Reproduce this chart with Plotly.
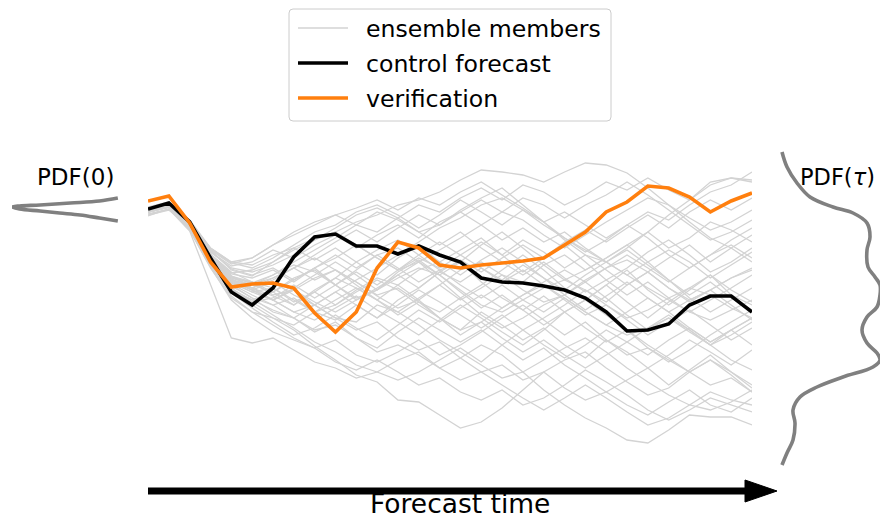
import plotly.graph_objects as go

# forecast lead time index (30 steps)
lead_time = list(range(30))

# chart values (vertical position units, larger = lower on the chart)
control_forecast = [209, 203, 222, 258, 292, 305, 288, 257, 237, 234, 246, 246, 254, 246, 255,
                    262, 278, 282, 283, 286, 290, 298, 312, 331, 330, 324, 305, 296, 296, 312]
verification = [201, 196, 223, 262, 287, 284, 283, 288, 313, 332, 312, 268, 242, 248, 265,
                268, 265, 263, 261, 258, 245, 232, 212, 202, 186, 188, 197, 212, 201, 193]

member_01 = [208, 203, 222, 250, 270, 276, 262, 248, 238, 232, 222, 215, 205, 200, 192, 180, 170, 172, 175, 182, 172, 163, 165, 173, 188, 205, 222, 238, 248, 262]
member_02 = [210, 204, 224, 252, 268, 272, 265, 255, 240, 228, 215, 208, 218, 232, 225, 210, 198, 188, 205, 222, 240, 255, 262, 248, 232, 215, 200, 182, 178, 180]
member_03 = [212, 207, 230, 268, 298, 312, 318, 330, 346, 360, 375, 382, 400, 402, 415, 428, 422, 408, 390, 372, 360, 352, 368, 382, 395, 388, 372, 360, 372, 385]
member_04 = [209, 204, 226, 260, 285, 298, 305, 318, 330, 325, 338, 352, 345, 355, 368, 358, 345, 355, 372, 390, 405, 418, 428, 440, 443, 430, 415, 417, 417, 425]
member_05 = [211, 206, 228, 262, 290, 300, 292, 305, 290, 278, 288, 300, 285, 300, 318, 330, 312, 325, 340, 328, 345, 358, 340, 352, 368, 355, 340, 352, 365, 350]
member_06 = [207, 202, 220, 248, 262, 265, 255, 248, 260, 248, 262, 275, 258, 245, 262, 250, 238, 255, 272, 258, 245, 262, 280, 268, 252, 240, 255, 272, 262, 248]
member_07 = [210, 205, 224, 258, 278, 285, 292, 278, 270, 285, 270, 255, 248, 262, 275, 262, 282, 298, 310, 296, 312, 300, 285, 302, 318, 302, 288, 275, 290, 302]
member_08 = [212, 207, 229, 264, 292, 305, 318, 325, 312, 320, 305, 318, 300, 288, 272, 282, 268, 280, 265, 278, 295, 282, 298, 315, 330, 318, 332, 345, 330, 318]
member_09 = [209, 203, 223, 254, 272, 282, 295, 290, 305, 318, 322, 305, 312, 298, 285, 300, 288, 275, 282, 265, 255, 270, 258, 245, 232, 248, 238, 222, 230, 242]
member_10 = [208, 203, 225, 258, 282, 292, 288, 302, 292, 305, 290, 278, 285, 270, 262, 275, 260, 248, 262, 278, 290, 275, 262, 250, 265, 280, 295, 282, 298, 310]
member_11 = [211, 206, 227, 260, 286, 298, 312, 318, 332, 322, 338, 348, 332, 318, 330, 342, 330, 345, 360, 348, 365, 378, 392, 380, 368, 385, 370, 355, 372, 388]
member_12 = [210, 205, 223, 252, 266, 262, 250, 258, 245, 235, 248, 235, 225, 238, 222, 212, 225, 240, 228, 242, 232, 248, 262, 275, 262, 250, 262, 278, 265, 252]
member_13 = [209, 204, 226, 259, 279, 288, 278, 268, 280, 270, 282, 295, 288, 302, 312, 298, 315, 328, 318, 305, 295, 310, 296, 282, 298, 312, 300, 290, 278, 268]
member_14 = [212, 207, 229, 266, 296, 312, 325, 338, 348, 340, 355, 362, 352, 340, 355, 345, 332, 318, 305, 320, 335, 322, 340, 355, 348, 360, 372, 385, 378, 392]
member_15 = [210, 205, 227, 262, 288, 302, 315, 328, 342, 352, 365, 372, 380, 372, 360, 348, 362, 345, 330, 318, 305, 290, 302, 285, 272, 258, 245, 262, 248, 235]
member_16 = [208, 203, 224, 256, 276, 282, 292, 280, 268, 285, 300, 290, 275, 262, 280, 298, 285, 270, 255, 270, 288, 300, 285, 270, 290, 305, 290, 275, 295, 305]
member_17 = [211, 206, 228, 261, 283, 292, 300, 288, 275, 262, 275, 290, 272, 260, 275, 292, 308, 295, 310, 325, 312, 328, 342, 330, 345, 358, 372, 360, 375, 392]
member_18 = [210, 204, 225, 257, 280, 288, 280, 268, 255, 242, 230, 242, 228, 215, 225, 212, 200, 212, 198, 205, 218, 205, 195, 182, 195, 210, 225, 240, 232, 220]
member_19 = [209, 204, 224, 255, 274, 278, 270, 282, 268, 258, 245, 258, 270, 255, 242, 255, 268, 282, 270, 285, 300, 315, 305, 320, 335, 322, 310, 325, 340, 328]
member_20 = [212, 207, 230, 267, 300, 318, 332, 340, 348, 362, 370, 360, 372, 385, 378, 392, 400, 390, 405, 398, 385, 370, 382, 395, 410, 420, 410, 398, 405, 412]
member_21 = [208, 202, 221, 249, 263, 268, 258, 245, 232, 225, 212, 205, 215, 228, 215, 200, 212, 225, 210, 222, 238, 252, 240, 225, 238, 255, 268, 255, 240, 228]
member_22 = [210, 205, 226, 258, 280, 288, 296, 305, 292, 278, 262, 250, 240, 255, 270, 262, 245, 232, 248, 265, 280, 270, 258, 245, 262, 280, 298, 312, 300, 288]
member_23 = [211, 205, 225, 256, 277, 283, 275, 262, 250, 238, 225, 232, 218, 205, 212, 198, 188, 200, 185, 192, 205, 195, 182, 190, 178, 190, 200, 185, 178, 182]
member_24 = [209, 204, 226, 260, 284, 295, 305, 298, 312, 300, 288, 300, 315, 302, 318, 335, 322, 338, 352, 340, 355, 368, 355, 342, 355, 340, 328, 342, 330, 318]
member_25 = [210, 206, 228, 263, 290, 302, 298, 285, 298, 285, 272, 285, 270, 258, 268, 255, 242, 255, 240, 252, 268, 255, 270, 285, 272, 288, 302, 290, 305, 320]
member_26 = [208, 203, 224, 256, 276, 288, 300, 312, 305, 318, 330, 322, 338, 350, 342, 358, 372, 365, 380, 372, 388, 400, 392, 405, 415, 402, 390, 405, 412, 398]
member_27 = [211, 206, 227, 259, 281, 290, 300, 312, 320, 308, 296, 310, 322, 335, 320, 305, 318, 332, 345, 330, 312, 300, 315, 330, 348, 362, 350, 335, 322, 310]
member_28 = [210, 205, 224, 255, 273, 270, 262, 250, 240, 232, 245, 258, 270, 262, 250, 238, 225, 212, 220, 235, 248, 235, 222, 210, 198, 205, 218, 230, 222, 210]
member_29 = [212, 207, 229, 265, 293, 308, 322, 335, 328, 315, 328, 340, 325, 310, 322, 308, 295, 308, 295, 282, 270, 282, 268, 255, 268, 282, 268, 255, 245, 258]
member_30 = [209, 204, 225, 257, 279, 290, 282, 295, 305, 292, 305, 318, 305, 290, 302, 315, 328, 315, 330, 345, 358, 345, 330, 342, 328, 315, 330, 345, 335, 322]
member_31 = [210, 205, 226, 258, 280, 290, 300, 290, 302, 312, 300, 288, 275, 288, 272, 260, 272, 258, 245, 258, 242, 230, 242, 228, 215, 228, 212, 200, 210, 198]
member_32 = [208, 203, 222, 251, 269, 275, 268, 280, 268, 255, 268, 255, 268, 282, 270, 285, 298, 285, 300, 312, 298, 312, 325, 312, 298, 312, 328, 342, 330, 345]
member_33 = [211, 206, 228, 262, 289, 300, 310, 318, 305, 292, 280, 268, 255, 242, 228, 218, 205, 198, 210, 225, 238, 250, 262, 275, 288, 300, 312, 320, 310, 300]
member_34 = [214, 209, 231, 285, 338, 343, 338, 350, 362, 368, 378, 372, 360, 352, 368, 380, 372, 385, 398, 410, 398, 385, 398, 412, 425, 418, 405, 392, 400, 405]
member_35 = [209, 204, 224, 255, 276, 284, 278, 268, 258, 270, 285, 300, 312, 325, 340, 352, 365, 378, 372, 360, 348, 338, 352, 368, 382, 395, 405, 410, 402, 390]
member_36 = [208, 203, 222, 248, 262, 258, 245, 232, 222, 215, 225, 212, 220, 232, 245, 232, 248, 262, 275, 262, 278, 292, 280, 295, 282, 298, 312, 300, 288, 275]
member_37 = [209, 204, 223, 250, 264, 258, 245, 235, 225, 215, 208, 200, 210, 198, 205, 192, 182, 195, 208, 222, 212, 225, 238, 225, 212, 220, 205, 192, 185, 172]
member_38 = [210, 205, 226, 258, 280, 285, 275, 265, 272, 285, 298, 290, 278, 268, 275, 290, 305, 312, 300, 288, 280, 290, 305, 318, 310, 298, 288, 295, 308, 318]
member_39 = [215, 210, 227, 260, 282, 290, 300, 290, 278, 270, 282, 296, 308, 300, 285, 270, 262, 275, 290, 302, 295, 280, 268, 260, 272, 288, 300, 290, 278, 270]
member_40 = [216, 209, 225, 257, 278, 282, 288, 300, 312, 305, 292, 280, 290, 305, 318, 330, 322, 308, 295, 285, 298, 312, 325, 335, 328, 318, 330, 345, 360, 370]

ensemble_members = [member_01, member_02, member_03, member_04, member_05, member_06, member_07, member_08,
                    member_09, member_10, member_11, member_12, member_13, member_14, member_15, member_16,
                    member_17, member_18, member_19, member_20, member_21, member_22, member_23, member_24,
                    member_25, member_26, member_27, member_28, member_29, member_30, member_31, member_32,
                    member_33, member_34, member_35, member_36, member_37, member_38, member_39, member_40]

# initial PDF (density vs state)
pdf0_state = [198, 201, 203, 205, 206, 207, 209, 211, 213, 215, 218, 221]
pdf0_density = [0.02, 0.19, 0.46, 0.74, 0.93, 1.0, 0.93, 0.74, 0.56, 0.37, 0.19, 0.02]

# PDF at lead time tau
pdft_state = [152, 167, 183, 197, 207, 213, 223, 237, 250, 267, 277, 285, 295, 307, 317, 330,
              343, 353, 360, 367, 377, 387, 397, 410, 423, 440, 453, 465]
pdft_density = [0.02, 0.07, 0.17, 0.30, 0.53, 0.73, 0.87, 0.90, 0.87, 0.88, 0.95, 1.0, 1.0, 0.97,
                0.87, 0.82, 0.87, 0.97, 1.0, 0.93, 0.63, 0.37, 0.20, 0.13, 0.15, 0.13, 0.07, 0.02]

# legend entries (label, colour, line width)
legend_labels = ["ensemble members", "control forecast", "verification"]
legend_colors = ["#d3d3d3", "black", "#ff7f0e"]
legend_widths = [1.3, 3.6, 3.6]

W, H = 880, 519
FONT = "DejaVu Sans"

fig = go.Figure()
for m in ensemble_members:
    fig.add_trace(go.Scatter(x=lead_time, y=m, mode="lines",
                             line=dict(color=legend_colors[0], width=legend_widths[0]),
                             name=legend_labels[0], showlegend=False, hoverinfo="skip"))
fig.add_trace(go.Scatter(x=lead_time, y=control_forecast, mode="lines",
                         line=dict(color=legend_colors[1], width=legend_widths[1]),
                         name=legend_labels[1], showlegend=False))
fig.add_trace(go.Scatter(x=lead_time, y=verification, mode="lines",
                         line=dict(color=legend_colors[2], width=legend_widths[2]),
                         name=legend_labels[2], showlegend=False))
fig.add_trace(go.Scatter(x=pdf0_density, y=pdf0_state, xaxis="x2", yaxis="y", mode="lines",
                         line=dict(color="#808080", width=3.6, shape="spline"), showlegend=False))
fig.add_trace(go.Scatter(x=pdft_density, y=pdft_state, xaxis="x3", yaxis="y", mode="lines",
                         line=dict(color="#808080", width=3.6, shape="spline"), showlegend=False))


def px(x):
    return x / W


def py(y):
    return 1 - y / H


# legend frame (rounded box)
lx0, lx1, ly0, ly1, r = 289, 611, 9, 121, 4
frame = (f"M {px(lx0 + r)} {py(ly0)} L {px(lx1 - r)} {py(ly0)} "
         f"Q {px(lx1)} {py(ly0)} {px(lx1)} {py(ly0 + r)} L {px(lx1)} {py(ly1 - r)} "
         f"Q {px(lx1)} {py(ly1)} {px(lx1 - r)} {py(ly1)} L {px(lx0 + r)} {py(ly1)} "
         f"Q {px(lx0)} {py(ly1)} {px(lx0)} {py(ly1 - r)} L {px(lx0)} {py(ly0 + r)} "
         f"Q {px(lx0)} {py(ly0)} {px(lx0 + r)} {py(ly0)} Z")
shapes = [dict(type="path", xref="paper", yref="paper", path=frame,
               fillcolor="white", line=dict(color="#cccccc", width=1), layer="above")]
annotations = []
row_y = [28, 63, 98]
for lab, col, wid, yy in zip(legend_labels, legend_colors, legend_widths, row_y):
    shapes.append(dict(type="line", xref="paper", yref="paper", x0=px(298), x1=px(348),
                       y0=py(yy), y1=py(yy), line=dict(color=col, width=wid), layer="above"))
    annotations.append(dict(text=lab, xref="paper", yref="paper", x=px(364), y=py(yy + 1),
                            xanchor="left", yanchor="middle", showarrow=False,
                            font=dict(size=23.6)))

# forecast-time arrow
shapes += [
    dict(type="line", xref="paper", yref="paper", x0=px(148), x1=px(750),
         y0=py(491), y1=py(491), line=dict(color="black", width=7)),
    dict(type="path", xref="paper", yref="paper",
         path=f"M {px(745)} {py(480)} L {px(777)} {py(491)} L {px(745)} {py(502)} Z",
         fillcolor="black", line=dict(color="black", width=1)),
]
annotations += [
    dict(text="PDF(0)", xref="paper", yref="paper", x=px(75), y=py(177),
         xanchor="center", yanchor="middle", showarrow=False, font=dict(size=23)),
    dict(text="PDF(<i>τ</i>)", xref="paper", yref="paper", x=px(877), y=py(177),
         xanchor="right", yanchor="middle", showarrow=False, font=dict(size=22.5)),
    dict(text="Forecast time", xref="paper", yref="paper", x=px(460), y=py(503),
         xanchor="center", yanchor="middle", showarrow=False, font=dict(size=26.5)),
]

hidden = dict(visible=False, showgrid=False, zeroline=False, fixedrange=True)
fig.update_layout(
    width=W, height=H,
    margin=dict(l=0, r=0, t=0, b=0, pad=0),
    paper_bgcolor="white", plot_bgcolor="white",
    font=dict(family=FONT, color="black"),
    showlegend=False,
    xaxis=dict(domain=[148 / W, 752 / W], range=[0, 29], anchor="y", **hidden),
    xaxis2=dict(domain=[12 / W, 120 / W], range=[1, 0], anchor="y", **hidden),
    xaxis3=dict(domain=[780 / W, 1.0], range=[0, 1], anchor="y", **hidden),
    yaxis=dict(domain=[0, 1], range=[H, 0], anchor="x", **hidden),
    shapes=shapes,
    annotations=annotations,
)

fig.write_html("out.html")
